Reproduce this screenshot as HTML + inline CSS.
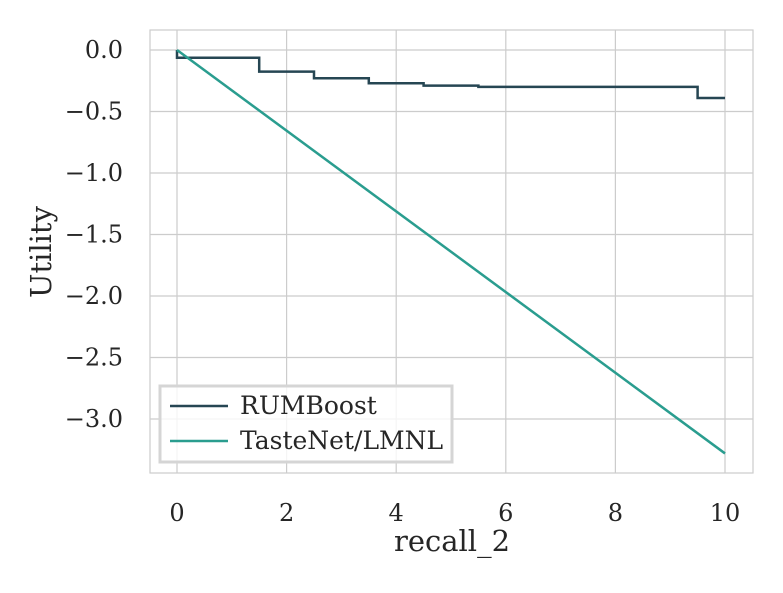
<!DOCTYPE html>
<html><head><meta charset="utf-8"><style>
body{margin:0;background:#fff;}
svg text{font-family:"DejaVu Serif","Liberation Serif",serif;fill:#262626;}
</style></head><body>
<svg id="chart" width="783" height="588">
<g id="grid"></g>
<rect x="150" y="30" width="603" height="443" fill="none" stroke="#cccccc" stroke-width="1.2"/>
<g id="series"></g>
<g id="ticks"></g>
<text x="452" y="551" style="font-size:29px" text-anchor="middle">recall_2</text>
<text transform="translate(51,252) rotate(-90)" style="font-size:29px" text-anchor="middle">Utility</text>
<g>
<rect x="160" y="386" width="292" height="76" fill="#fff" fill-opacity="0.8" stroke="#d5d5d5" stroke-width="3"/>
<line x1="170" y1="406" x2="228" y2="406" stroke="#264653" stroke-width="2.5"/>
<text x="240" y="414" style="font-size:25px">RUMBoost</text>
<line x1="170" y1="441" x2="228" y2="441" stroke="#2a9d8f" stroke-width="2.5"/>
<text x="240" y="449" style="font-size:25px">TasteNet/LMNL</text>
</g>
</svg>
<script>
const xTicks=[0,2,4,6,8,10];
const yTicks=[0.0,-0.5,-1.0,-1.5,-2.0,-2.5,-3.0];
const yTickLabels=["0.0","−0.5","−1.0","−1.5","−2.0","−2.5","−3.0"];
const rumX=[0,0,1.5,1.5,2.5,2.5,3.5,3.5,4.5,4.5,5.5,5.5,9.5,9.5,10];
const rumY=[0,-0.063,-0.063,-0.176,-0.176,-0.23,-0.23,-0.27,-0.27,-0.29,-0.29,-0.30,-0.30,-0.39,-0.39];
const tnX=[0,10];
const tnY=[0,-3.28];
const NS="http://www.w3.org/2000/svg";
const sx=v=>177+v*54.8;
const sy=v=>50-v*123;
const grid=document.getElementById('grid'),ticks=document.getElementById('ticks'),series=document.getElementById('series');
function mk(tag,attrs,parent){const e=document.createElementNS(NS,tag);for(const k in attrs)e.setAttribute(k,attrs[k]);parent.appendChild(e);return e;}
xTicks.forEach(t=>{
 const l=mk('line',{x1:sx(t),x2:sx(t),y1:30,y2:473,stroke:'#cccccc','stroke-width':1.2},grid);
 
 
 const tx=mk('text',{x:sx(t),y:521,style:'font-size:24px','text-anchor':'middle'},ticks);
 tx.textContent=t;
 
 
});
yTicks.forEach((t,i)=>{
 const l=mk('line',{x1:150,x2:753,y1:sy(t),y2:sy(t),stroke:'#cccccc','stroke-width':1.2},grid);
 
 
 const tx=mk('text',{x:123,y:sy(t)+8,style:'font-size:24px','text-anchor':'end'},ticks);
 tx.textContent=yTickLabels[i];
 
 
});
function line(xs,ys,color,name){
 const p=mk('polyline',{points:xs.map((x,i)=>sx(x)+','+sy(ys[i])).join(' '),fill:'none',stroke:color,'stroke-width':2.5},series);
 
 
}
line(rumX,rumY,'#264653','rumboost-line');
line(tnX,tnY,'#2a9d8f','tastenet-line');
</script>
</body></html>
